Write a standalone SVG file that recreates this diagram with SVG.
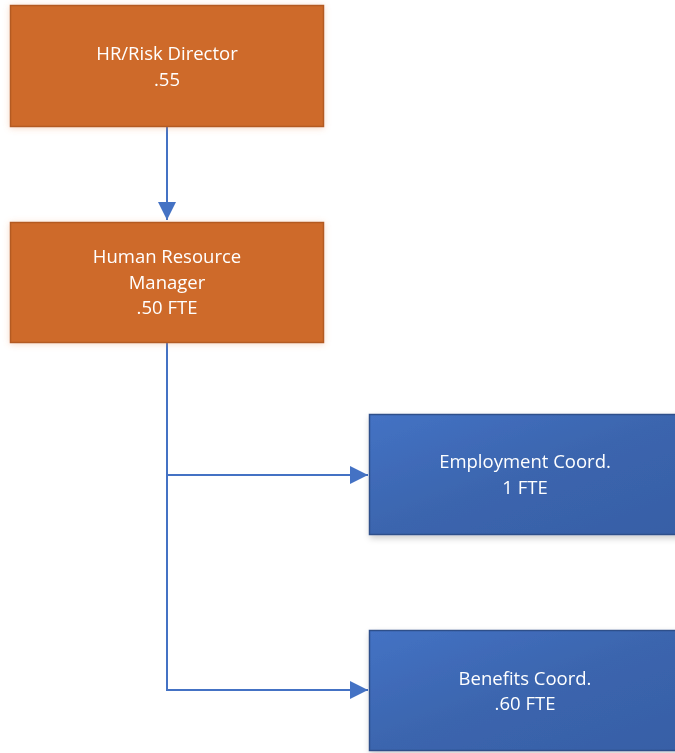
<svg xmlns="http://www.w3.org/2000/svg" width="675" height="753" viewBox="0 0 675 753">
  <style>
    .lbl { font-family: "Open Sans", "Noto Sans", sans-serif; font-size: 18.5px; fill: #ffffff; text-anchor: middle; }
    .orange { fill: #CE6B2B; stroke: #B35A22; stroke-width: 1.5; }
    .blue { fill: url(#blueGrad); stroke: #2F4F8A; stroke-width: 1.5; }
    .conn { fill: none; stroke: #4472C4; stroke-width: 2; }
  </style>
  <defs>
    <linearGradient id="blueGrad" x1="0" y1="0" x2="1" y2="1">
      <stop offset="0" stop-color="#4472C4"/>
      <stop offset="0.5" stop-color="#3B65AE"/>
      <stop offset="1" stop-color="#375FA6"/>
    </linearGradient>
    <filter id="glow" x="-10%" y="-20%" width="120%" height="140%">
      <feDropShadow dx="0" dy="1" stdDeviation="3" flood-color="#E8925C" flood-opacity="0.35"/>
    </filter>
    <filter id="shade" x="-10%" y="-20%" width="120%" height="140%">
      <feDropShadow dx="1" dy="3" stdDeviation="3" flood-color="#000000" flood-opacity="0.2"/>
    </filter>
    <marker id="arrow" viewBox="0 0 10 10" refX="10" refY="5" markerWidth="18" markerHeight="18" markerUnits="userSpaceOnUse" orient="auto">
      <path d="M0,0 L10,5 L0,10 Z" fill="#4472C4"/>
    </marker>
  </defs>

  <!-- connectors -->
  <g id="connectors">
    <path class="conn" d="M167,127 V220" marker-end="url(#arrow)"/>
    <path class="conn" d="M167,343 V475 H368" marker-end="url(#arrow)"/>
    <path class="conn" d="M167,475 V690 H368" marker-end="url(#arrow)"/>
  </g>

  <g id="hr-risk-director" filter="url(#glow)">
    <rect class="orange" x="10.5" y="5.5" width="313" height="121"/>
    <text class="lbl" x="167" y="60">HR/Risk Director</text>
    <text class="lbl" x="167" y="86">.55</text>
  </g>

  <g id="hr-manager" filter="url(#glow)">
    <rect class="orange" x="10.5" y="222.5" width="313" height="120"/>
    <text class="lbl" x="167" y="263">Human Resource</text>
    <text class="lbl" x="167" y="289">Manager</text>
    <text class="lbl" x="167" y="314">.50 FTE</text>
  </g>

  <g id="employment-coord" filter="url(#shade)">
    <rect class="blue" x="369.5" y="414.5" width="313" height="120"/>
    <text class="lbl" x="525" y="468">Employment Coord.</text>
    <text class="lbl" x="525" y="494">1 FTE</text>
  </g>

  <g id="benefits-coord" filter="url(#shade)">
    <rect class="blue" x="369.5" y="630.5" width="313" height="120"/>
    <text class="lbl" x="525" y="685">Benefits Coord.</text>
    <text class="lbl" x="525" y="710">.60 FTE</text>
  </g>
</svg>
